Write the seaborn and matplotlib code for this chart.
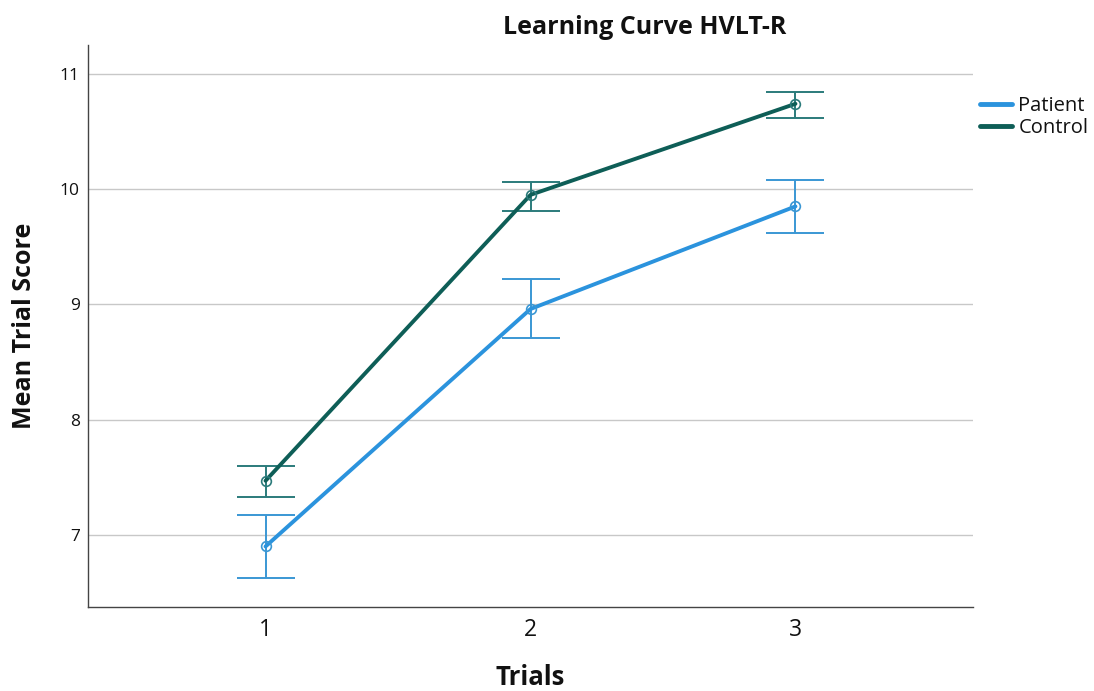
import matplotlib
matplotlib.use("Agg")
import matplotlib.pyplot as plt
import seaborn as sns
import pandas as pd
from matplotlib.lines import Line2D

trials = [1, 2, 3]
groups = ["Patient", "Control"]
patient_mean = [6.90, 8.96, 9.85]
patient_lo = [6.63, 8.71, 9.62]
patient_hi = [7.17, 9.22, 10.08]
control_mean = [7.47, 9.95, 10.74]
control_lo = [7.33, 9.81, 10.62]
control_hi = [7.60, 10.06, 10.84]

line_colors = {"Patient": "#2b93dd", "Control": "#0e5e57"}
err_colors = {"Patient": "#3a97d4", "Control": "#2b7b7b"}

df = pd.DataFrame({
    "Trials": trials * 2,
    "Group": ["Patient"] * 3 + ["Control"] * 3,
    "Mean": patient_mean + control_mean,
    "Lo": patient_lo + control_lo,
    "Hi": patient_hi + control_hi,
})

sns.set_style("white")
plt.rcParams["font.family"] = ["Open Sans", "DejaVu Sans"]
plt.rcParams["text.color"] = "#111111"
plt.rcParams["axes.labelcolor"] = "#111111"
plt.rcParams["xtick.color"] = "#111111"
plt.rcParams["ytick.color"] = "#111111"

fig = plt.figure(figsize=(10.94, 6.91), dpi=100)
ax = fig.add_axes([88 / 1094, 1 - 607 / 691, (973 - 88) / 1094, (607 - 45) / 691])

ax.grid(axis="y", color="#c8c8c8", linewidth=1.0)
ax.set_axisbelow(True)

for g in groups:
    sub = df[df["Group"] == g]
    ax.errorbar(sub["Trials"], sub["Mean"],
                yerr=[sub["Mean"] - sub["Lo"], sub["Hi"] - sub["Mean"]],
                fmt="none", ecolor=err_colors[g], elinewidth=1.4,
                capsize=21, capthick=1.4, zorder=2)

sns.lineplot(data=df, x="Trials", y="Mean", hue="Group", hue_order=groups,
             palette=line_colors, linewidth=2.8, ax=ax, legend=False,
             marker="o", markersize=7, markerfacecolor="none",
             markeredgewidth=1.2, zorder=3)
for ln, g in zip(ax.get_lines()[-2:], groups):
    ln.set_markeredgecolor(err_colors[g])

ax.set_xlim(0.33, 3.67)
ax.set_ylim(6.375, 11.25)
ax.set_xticks(trials)
ax.set_xticklabels([str(t) for t in trials], fontsize=16.5)
ax.set_yticks([7, 8, 9, 10, 11])
ax.set_yticklabels(["7", "8", "9", "10", "11"], fontsize=12.5)
ax.tick_params(axis="x", length=0, pad=8)
ax.tick_params(axis="y", length=0, pad=6)
for s in ["top", "right"]:
    ax.spines[s].set_visible(False)
for s in ["left", "bottom"]:
    ax.spines[s].set_color("#444444")
    ax.spines[s].set_linewidth(1.0)

ax.set_xlabel("Trials", fontsize=18.5, fontweight="bold", labelpad=16)
ax.set_ylabel("Mean Trial Score", fontsize=18, fontweight="bold", labelpad=16)
fig.text(645 / 1094, 1 - 27 / 691, "Learning Curve HVLT-R", ha="center", va="center",
         fontsize=18, fontweight="bold")

handles = [Line2D([0], [0], color=line_colors[g], linewidth=3.5) for g in groups]
fig.legend(handles, groups, loc="upper left", bbox_to_anchor=(972 / 1094, 1 - 88 / 691),
           frameon=False, fontsize=14.5, handlelength=1.6, handletextpad=0.3,
           labelspacing=0.12, borderaxespad=0)

fig.savefig("out.png", dpi=100)
